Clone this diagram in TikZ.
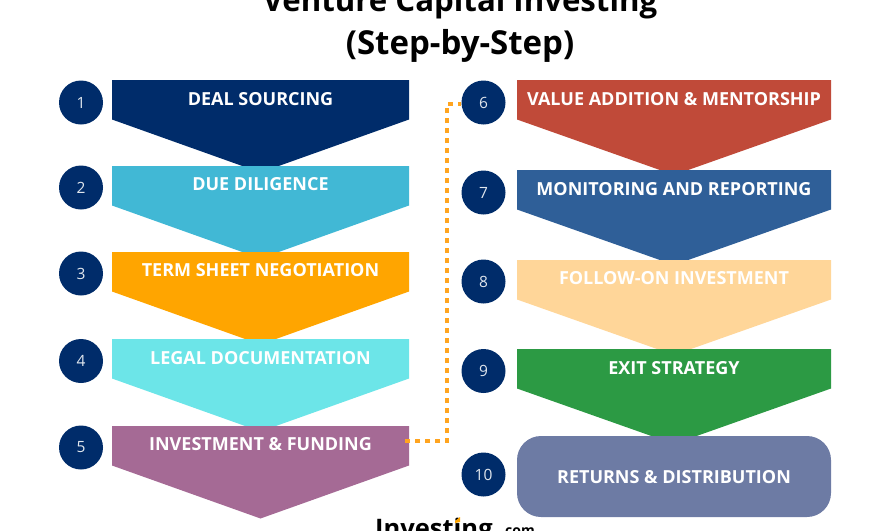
\documentclass[tikz,border=0pt]{standalone}
\usepackage{fontspec}
\setmainfont{Open Sans}
\definecolor{navyStep}{HTML}{002C6A}
\definecolor{skyStep}{HTML}{41B8D5}
\definecolor{amberStep}{HTML}{FFA500}
\definecolor{aquaStep}{HTML}{6CE5E8}
\definecolor{plumStep}{HTML}{A56A95}
\definecolor{brickStep}{HTML}{C04A39}
\definecolor{steelStep}{HTML}{2F5F98}
\definecolor{peachStep}{HTML}{FFD699}
\definecolor{leafStep}{HTML}{2C9A44}
\definecolor{slateStep}{HTML}{6D7BA4}
\definecolor{linkOrange}{HTML}{FFA41F}

\begin{document}
\begin{tikzpicture}[x=1pt, y=-1pt,
      num/.style={circle, fill=navyStep, text=white!88!navyStep, minimum size=44pt, inner sep=0pt,
                  font=\fontsize{15.5}{18}\selectfont},
      lbl/.style={text=white, font=\fontsize{18}{22}\selectfont\bfseries, inner sep=0pt},
      link/.style={draw=linkOrange, line width=4.4pt, dash pattern=on 4.6pt off 5.4pt}]
    \useasboundingbox (0,0) rectangle (890,530);
    \clip (0,0) rectangle (890,530);
    % left column, top to bottom
    \foreach \t/\c in {80/navyStep, 166/skyStep, 252/amberStep, 339/aquaStep, 426/plumStep}
      \fill[\c] (112,\t) -- (409,\t) -- (409,\t+39.5) -- (260.5,\t+92.5) -- (112,\t+39.5) -- cycle;
    % right column
    \foreach \t/\c in {80/brickStep, 170/steelStep, 260/peachStep, 349/leafStep}
      \fill[\c] (517,\t) -- (831,\t) -- (831,\t+39.5) -- (674,\t+95) -- (517,\t+39.5) -- cycle;
    \node[fill=slateStep, rounded corners=24pt, minimum width=314pt, minimum height=81pt, inner sep=0pt] (box10) at (674,476.5) {};

    \node[lbl] (deal) at (260.5,99.5) {DEAL SOURCING};
    \node[lbl] (due) at (260.5,184.5) {DUE DILIGENCE};
    \node[lbl] (term) at (260.5,270.5) {TERM SHEET NEGOTIATION};
    \node[lbl] (legal) at (260.5,358.5) {LEGAL DOCUMENTATION};
    \node[lbl] (inv) at (260.5,444.5) {INVESTMENT \& FUNDING};
    \node[lbl] (value) at (674,99.5) {VALUE ADDITION \& MENTORSHIP};
    \node[lbl] (mon) at (674,189.5) {MONITORING AND REPORTING};
    \node[lbl] (follow) at (674,278.5) {FOLLOW-ON INVESTMENT};
    \node[lbl] (exit) at (674,368.5) {EXIT STRATEGY};
    \node[lbl] (ret) at (674,477.5) {RETURNS \& DISTRIBUTION};

    % connector sits under the circle
    \coordinate (out5) at (405,441);
    \coordinate (lane) at (447,104);
    \node[num] (n6) at (483.5,102.5) {6};
    \draw[link] (out5) -- (out5 -| lane) -- (lane) -- (n6.west |- lane);

    \foreach \n/\x/\y/\s in {n1/81/102.5/1, n2/81/187.5/2, n3/81/273.5/3, n4/81/361/4, n5/81/447.5/5,
                             n7/483.5/192.5/7, n8/483.5/281.5/8, n9/483.5/371/9, n10/483.5/474.5/10}
      \node[num] (\n) at (\x,\y) {\s};

    \node[font=\fontsize{31.2}{43}\selectfont\bfseries, inner sep=0pt, anchor=base] (title) at (460,12)
      {Venture Capital Investing};
    \node[font=\fontsize{33}{43}\selectfont\bfseries, inner sep=0pt, anchor=base] (subtitle) at (460,54.5)
      {(Step-by-Step)};
    \node[font=\fontsize{25.5}{32}\selectfont\bfseries, anchor=base west, inner sep=0pt] (logo) at (375,537) {Investing};
    \node[font=\fontsize{14}{16}\selectfont\bfseries, anchor=base west, inner sep=0pt] (dotcom) at (501,535.5) {.com};
    \fill[amberStep] (455,521) -- (460,517) -- (460,522) -- (455,523) -- cycle;
  \end{tikzpicture}
\end{document}
